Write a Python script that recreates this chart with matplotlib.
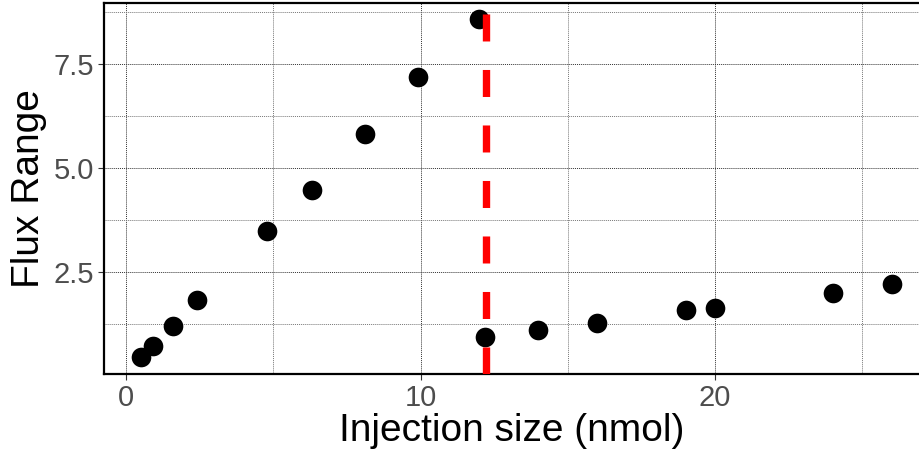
import numpy as np
import matplotlib.pyplot as plt
from matplotlib.ticker import MultipleLocator

plt.rcParams['font.family'] = ['Liberation Sans', 'DejaVu Sans']

# ── Data ──────────────────────────────────────────────────────────────────────
injection_nmol = [0.5, 0.9, 1.6, 2.4, 4.8, 6.3, 8.1, 9.9, 12.0,
                  12.2, 14.0, 16.0, 19.0, 20.0, 24.0, 26.0]
flux_range     = [0.46, 0.72, 1.20, 1.83, 3.49, 4.47, 5.82, 7.19, 8.58,
                  0.94, 1.11, 1.27, 1.59, 1.63, 1.99, 2.21]
cutoff_nmol    = 12.22

x_ticks = [0, 10, 20]
y_ticks = [2.5, 5.0, 7.5]
y_tick_labels = ["2.5", "5.0", "7.5"]

fig = plt.figure(figsize=(9.2, 4.57), dpi=100)
ax = fig.add_axes([104 / 920, 1 - 374 / 457, 1 - 104 / 920, (374 - 3) / 457])

ax.scatter(injection_nmol, flux_range, s=200, color="black", zorder=3,
           linewidths=0)
ax.axvline(cutoff_nmol, color="#FF0000", lw=5.3, dashes=[3.67, 3.87],
           dash_capstyle="butt", zorder=4)

ax.set_xlim(-0.75, 26.96)
ax.set_ylim(0.05, 8.97)
ax.set_xticks(x_ticks)
ax.set_yticks(y_ticks)
ax.set_yticklabels(y_tick_labels)
ax.xaxis.set_minor_locator(MultipleLocator(5))
ax.yaxis.set_minor_locator(MultipleLocator(1.25))

ax.grid(True, which="major", linestyle=(0, (1, 1)), color="#333333", lw=0.7)
ax.grid(True, which="minor", linestyle=(0, (1, 1)), color="#777777", lw=0.7)
ax.set_axisbelow(True)

for side in ["left", "bottom", "top"]:
    ax.spines[side].set_color("black")
    ax.spines[side].set_linewidth(1.6)
ax.spines["right"].set_visible(False)

ax.tick_params(which="major", length=4, width=0.8, color="#333333",
               labelsize=21, labelcolor="#4D4D4D", pad=3)
ax.tick_params(which="minor", length=0)

ax.set_xlabel("Injection size (nmol)", fontsize=28, labelpad=1)
ax.set_ylabel("Flux Range", fontsize=28, labelpad=5)

fig.savefig("out.png", dpi=100)
